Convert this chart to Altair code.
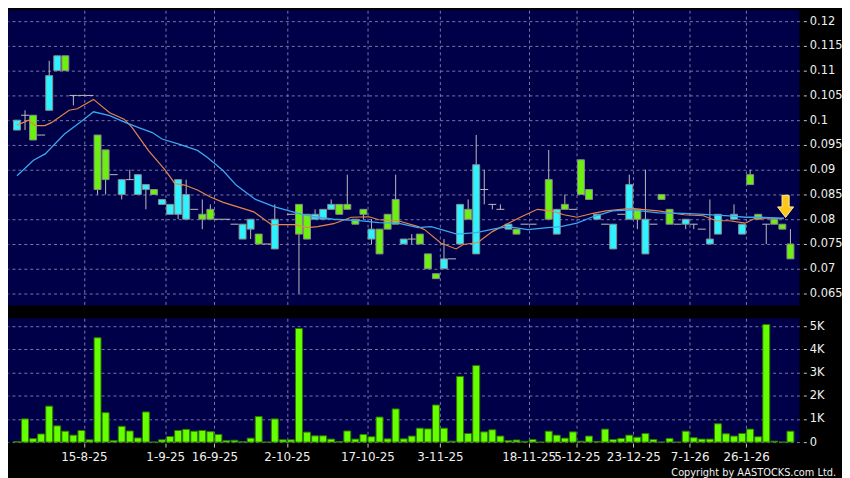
import altair as alt
import pandas as pd

# ---------------- data ----------------
OPEN = [0.098, 0.101, 0.101, 0.097, 0.102, 0.110, 0.113, 0.105, 0.105, 0.105,
        0.097, 0.094, 0.089, 0.085, 0.088, 0.085, 0.086, 0.086, 0.083, 0.081,
        0.081, 0.080, 0.082, 0.081, 0.082, 0.080, 0.080, 0.079, 0.076, 0.078,
        0.077, 0.075, 0.074, None, 0.081, 0.083, 0.081, 0.080, 0.080, 0.082,
        0.083, 0.083, 0.080, 0.082, 0.076, 0.078, 0.081, 0.084, 0.075, 0.076,
        0.077, 0.073, 0.069, 0.070, 0.072, 0.075, 0.082, 0.073, 0.086, 0.083,
        0.082, 0.078, 0.078, 0.079, 0.079, None, 0.088, 0.077, 0.083, 0.082,
        0.092, 0.086, 0.080, 0.079, 0.074, 0.081, 0.080, 0.082, 0.073, 0.079,
        0.085, 0.082, 0.079, 0.079, 0.079, 0.078, 0.075, 0.077, None, 0.080,
        0.077, 0.089, 0.081, 0.079, 0.080, 0.079, 0.075]
CLOSE = [0.100, 0.101, 0.096, 0.097, 0.109, 0.113, 0.110, 0.105, 0.105, 0.105,
         0.086, 0.088, 0.089, 0.088, 0.088, 0.089, 0.087, 0.085, 0.084, 0.083,
         0.088, 0.085, 0.082, 0.080, 0.080, 0.080, 0.080, 0.079, 0.079, 0.080,
         0.075, 0.075, 0.080, None, 0.081, 0.077, 0.076, 0.081, 0.082, 0.083,
         0.081, 0.082, 0.079, 0.081, 0.078, 0.073, 0.078, 0.079, 0.076, 0.076,
         0.075, 0.070, 0.068, 0.072, 0.072, 0.083, 0.080, 0.091, 0.086, 0.083,
         0.082, 0.079, 0.077, 0.079, 0.079, None, 0.080, 0.082, 0.082, 0.082,
         0.085, 0.084, 0.081, 0.079, 0.079, 0.081, 0.087, 0.080, 0.080, 0.079,
         0.084, 0.079, 0.079, 0.080, 0.079, 0.078, 0.076, 0.081, None, 0.081,
         0.079, 0.087, 0.080, 0.079, 0.079, 0.078, 0.072]
HIGH = [0.100, 0.102, 0.101, 0.097, 0.112, 0.113, 0.113, 0.105, 0.105, 0.105,
        0.097, 0.094, 0.089, 0.088, 0.090, 0.089, 0.087, 0.086, 0.084, 0.083,
        0.088, 0.088, 0.082, 0.084, 0.083, 0.080, 0.080, 0.079, 0.079, 0.080,
        0.077, 0.075, 0.083, None, 0.081, 0.083, 0.081, 0.082, 0.082, 0.084,
        0.083, 0.089, 0.080, 0.082, 0.080, 0.078, 0.081, 0.089, 0.076, 0.077,
        0.077, 0.073, 0.069, 0.076, 0.072, 0.083, 0.084, 0.097, 0.090, 0.083,
        0.083, 0.079, 0.078, 0.079, 0.079, None, 0.094, 0.082, 0.085, 0.082,
        0.092, 0.086, 0.081, 0.079, 0.079, 0.081, 0.089, 0.082, 0.090, 0.079,
        0.085, 0.082, 0.079, 0.080, 0.079, 0.078, 0.084, 0.081, None, 0.083,
        0.079, 0.090, 0.081, 0.079, 0.080, 0.079, 0.078]
LOW = [0.098, 0.098, 0.096, 0.097, 0.102, 0.110, 0.110, 0.103, 0.105, 0.105,
       0.085, 0.085, 0.089, 0.084, 0.088, 0.085, 0.082, 0.085, 0.083, 0.081,
       0.080, 0.080, 0.082, 0.078, 0.080, 0.080, 0.080, 0.079, 0.076, 0.076,
       0.075, 0.075, 0.074, None, 0.081, 0.065, 0.076, 0.080, 0.080, 0.082,
       0.081, 0.082, 0.079, 0.080, 0.075, 0.073, 0.078, 0.079, 0.075, 0.075,
       0.075, 0.070, 0.068, 0.070, 0.072, 0.075, 0.080, 0.073, 0.083, 0.082,
       0.082, 0.078, 0.077, 0.079, 0.079, None, 0.080, 0.077, 0.082, 0.082,
       0.085, 0.084, 0.080, 0.079, 0.074, 0.081, 0.080, 0.078, 0.073, 0.079,
       0.084, 0.079, 0.079, 0.078, 0.078, 0.078, 0.075, 0.077, None, 0.080,
       0.077, 0.087, 0.080, 0.075, 0.079, 0.078, 0.072]
VOLUME_K = [0.02, 1.0, 0.15, 0.35, 1.55, 0.7, 0.47, 0.3, 0.5, 0.1,
            4.5, 1.27, 0.07, 0.68, 0.48, 0.18, 1.3, 0.0, 0.1, 0.24,
            0.5, 0.55, 0.47, 0.5, 0.45, 0.33, 0.07, 0.08, 0.02, 0.17,
            1.1, 0.0, 1.0, 0.1, 0.1, 4.9, 0.43, 0.27, 0.27, 0.13,
            0.02, 0.48, 0.13, 0.33, 0.23, 1.08, 0.14, 1.43, 0.14, 0.26,
            0.6, 0.57, 1.6, 0.6, 0.04, 2.83, 0.37, 3.3, 0.44, 0.53,
            0.26, 0.07, 0.09, 0.03, 0.11, 0.0, 0.47, 0.3, 0.17, 0.44,
            0.04, 0.26, 0.03, 0.56, 0.11, 0.16, 0.3, 0.21, 0.37, 0.11,
            0.0, 0.16, 0.0, 0.47, 0.19, 0.13, 0.13, 0.79, 0.36, 0.26,
            0.37, 0.56, 0.23, 5.07, 0.04, 0.0, 0.47]

MA_SHORT_X = [0, 1.45, 2.25, 3.46, 4.27, 6.48, 7.49, 9.5, 11.5, 13.3,
              14.3, 16.3, 18.4, 19.6, 20.8, 22.4, 24, 25.6, 28, 29.4,
              31.6, 34.5, 36.1, 37.3, 39.3, 41.5, 43.7, 44.9, 47.3, 49.8,
              50.6, 52.6, 54.5, 55.4, 57.2, 59, 61, 62.6, 64.6, 66.3,
              67.9, 69.5, 71.5, 73.1, 76.3, 77.5, 79.6, 82.8, 85.2, 86.8,
              88.4, 90.4, 91.6, 93.2, 95.2]
MA_SHORT_Y = [0.099, 0.100, 0.0989, 0.0989, 0.0995, 0.102, 0.1023, 0.1042, 0.1015, 0.1002,
              0.0985, 0.0939, 0.0899, 0.0872, 0.0869, 0.0859, 0.0845, 0.0834, 0.0822, 0.0815,
              0.0789, 0.0789, 0.0783, 0.0785, 0.0791, 0.0804, 0.0805, 0.0799, 0.0797, 0.0785,
              0.0779, 0.0752, 0.074, 0.0749, 0.0753, 0.0775, 0.0792, 0.0805, 0.082, 0.0817,
              0.0809, 0.0804, 0.0812, 0.0817, 0.0822, 0.082, 0.0817, 0.0809, 0.0807, 0.0797,
              0.0797, 0.0792, 0.0802, 0.0802, 0.0801]
MA_LONG_X = [0, 2.05, 3.5, 5.9, 8.1, 9.5, 11.5, 13.5, 15.1, 16.8,
             18, 20, 22.4, 23.6, 24.8, 25.6, 27.2, 29.6, 32, 34.9,
             36.9, 39.3, 42.5, 44.9, 47.3, 49.8, 51.4, 54.6, 57, 59.4,
             61, 63.4, 65.9, 67.5, 69.5, 71.5, 73.9, 76.3, 79.6, 82.8,
             85.2, 88.4, 90.4, 92.4, 95.2]
MA_LONG_Y = [0.0888, 0.0919, 0.0932, 0.0972, 0.0999, 0.1017, 0.1009, 0.0995, 0.0985, 0.0975,
             0.0962, 0.0952, 0.0939, 0.0925, 0.0909, 0.0898, 0.0869, 0.084, 0.0825, 0.0812,
             0.0805, 0.08, 0.0797, 0.0793, 0.0792, 0.0783, 0.0785, 0.077, 0.0773, 0.0781,
             0.0785, 0.0779, 0.0783, 0.0785, 0.0792, 0.0805, 0.0817, 0.0819, 0.0813, 0.0812,
             0.081, 0.0807, 0.0804, 0.0804, 0.0802]

DATE_POS = [8.3, 18.4, 24.5, 33.5, 43.5, 52.5, 63.5, 69.5, 76.5, 83.5, 90.5]
DATE_LABELS = ["15-8-25", "1-9-25", "16-9-25", "2-10-25", "17-10-25", "3-11-25",
               "18-11-25", "5-12-25", "23-12-25", "7-1-26", "26-1-26"]
PRICE_TICKS = [0.065, 0.07, 0.075, 0.08, 0.085, 0.09, 0.095, 0.1, 0.105, 0.11, 0.115, 0.12]
VOL_TICKS = [0, 1, 2, 3, 4, 5]
ARROW_X = [95.4]
ARROW_Y = [0.0826]
COPYRIGHT = "Copyright by AASTOCKS.com Ltd."

# ---------------- tables ----------------
n = len(OPEN)
rows = []
for i in range(n):
    if OPEN[i] is None:
        continue
    d = "up" if CLOSE[i] > OPEN[i] else ("down" if CLOSE[i] < OPEN[i] else "flat")
    rows.append({"idx": i, "o": OPEN[i], "c": CLOSE[i], "h": HIGH[i], "l": LOW[i], "dir": d})
candles = pd.DataFrame(rows)
bodies = candles[candles["dir"] != "flat"]
dojis = candles[candles["dir"] == "flat"]
vol = pd.DataFrame({"idx": list(range(n)), "v": VOLUME_K})
ma_s = pd.DataFrame({"x": MA_SHORT_X, "y": MA_SHORT_Y})
ma_l = pd.DataFrame({"x": MA_LONG_X, "y": MA_LONG_Y})
arrow = pd.DataFrame({"x": ARROW_X, "y": ARROW_Y})
copy_df = pd.DataFrame({"t": [COPYRIGHT]})

W = 799
XS = alt.Scale(domain=[-0.5, 96.5], nice=False, zero=False)
PY = alt.Scale(domain=[0.0626, 0.1222], nice=False, zero=False)
VY = alt.Scale(domain=[0, 5.34], nice=False, zero=True)

label_expr = " : ".join(
    f"datum.value == {p} ? '{l}'" for p, l in zip(DATE_POS, DATE_LABELS)) + " : ''"

GRID = "#7878aa"
LABEL = "#f0f0f0"

XPA = alt.Axis(values=DATE_POS, labels=False, ticks=False, domain=False,
               grid=True, title=None)
YPA = alt.Axis(orient="right", values=PRICE_TICKS, format=".3~f", offset=4,
               tickSize=3, labelPadding=3, grid=True, domain=False, title=None,
               labelFontSize=11.5)


def px(field):
    return alt.X(field, type="quantitative", scale=XS, axis=XPA, title=None)


def py(field):
    return alt.Y(field, type="quantitative", scale=PY, axis=YPA, title=None)


wicks = alt.Chart(candles).mark_rule(color="#bcbcbc", strokeWidth=1).encode(
    x=px("idx"), y=py("l"), y2="h:Q",
)
body = alt.Chart(bodies).mark_bar(size=7, stroke="#8c8c8c", strokeWidth=1).encode(
    x=px("idx"), y=py("o"), y2="c:Q",
    color=alt.Color("dir:N", scale=alt.Scale(domain=["up", "down"],
                                             range=["#2ef2ff", "#6cf010"]), legend=None),
)
doji = alt.Chart(dojis).mark_rule(color="#bcbcbc", strokeWidth=1, xOffset=-4, x2Offset=4).encode(
    x=px("idx"), x2="idx:Q", y=py("c"),
)
line_s = alt.Chart(ma_s).mark_line(color="#e8844a", strokeWidth=1.2).encode(
    x=px("x"), y=py("y"),
)
line_l = alt.Chart(ma_l).mark_line(color="#3aa8f0", strokeWidth=1.3).encode(
    x=px("x"), y=py("y"),
)
ARROW_PATH = "M-0.32,-1 L0.32,-1 L0.32,0.05 L0.72,0.05 L0,1 L-0.72,0.05 L-0.32,0.05 Z"
arrow_mark = alt.Chart(arrow).mark_point(shape=ARROW_PATH, size=500, filled=True,
                                         fill="#ffc61a", stroke="#fff2a0", strokeWidth=1,
                                         opacity=1).encode(
    x=px("x"), y=py("y"),
)
price = alt.layer(wicks, body, doji, line_s, line_l, arrow_mark).properties(width=W, height=298)

x_vol_axis = alt.Axis(values=DATE_POS, labelExpr=label_expr, ticks=True, tickSize=4, offset=1,
                      labelPadding=5, grid=True, domain=False, title=None,
                      labelOverlap=False, labelFlush=False, labelFontSize=12)
y_vol_axis = alt.Axis(orient="right", values=VOL_TICKS, offset=4, tickSize=3, labelPadding=3,
                      labelExpr="datum.value == 0 ? '0' : datum.value + 'K'",
                      grid=True, domain=False, title=None, labelFontSize=11.5)
vbars = alt.Chart(vol).mark_bar(size=7, color="#66ff00", stroke="#2f7a00", strokeWidth=1).encode(
    x=alt.X("idx:Q", scale=XS, axis=x_vol_axis),
    y=alt.Y("v:Q", scale=VY, axis=y_vol_axis),
)
copy_txt = alt.Chart(copy_df).mark_text(align="right", baseline="middle", font="DejaVu Sans Condensed",
                                        fontSize=11, color=LABEL).encode(
    text="t:N", x=alt.value(836), y=alt.value(156))
volume = alt.layer(vbars, copy_txt).properties(width=W, height=125)

chart = alt.vconcat(price, volume, spacing=13).properties(
    padding=0, background="#000000"
).configure_view(fill="#000048", stroke=None).configure_axis(
    labelColor=LABEL, labelFont="DejaVu Sans", labelFontSize=11, gridColor=GRID,
    gridDash=[3, 3], gridWidth=1, gridOpacity=1, tickColor="#c8c8c8", tickWidth=1
)

chart.save("out.html", embed_options={"renderer": "svg", "actions": False})
